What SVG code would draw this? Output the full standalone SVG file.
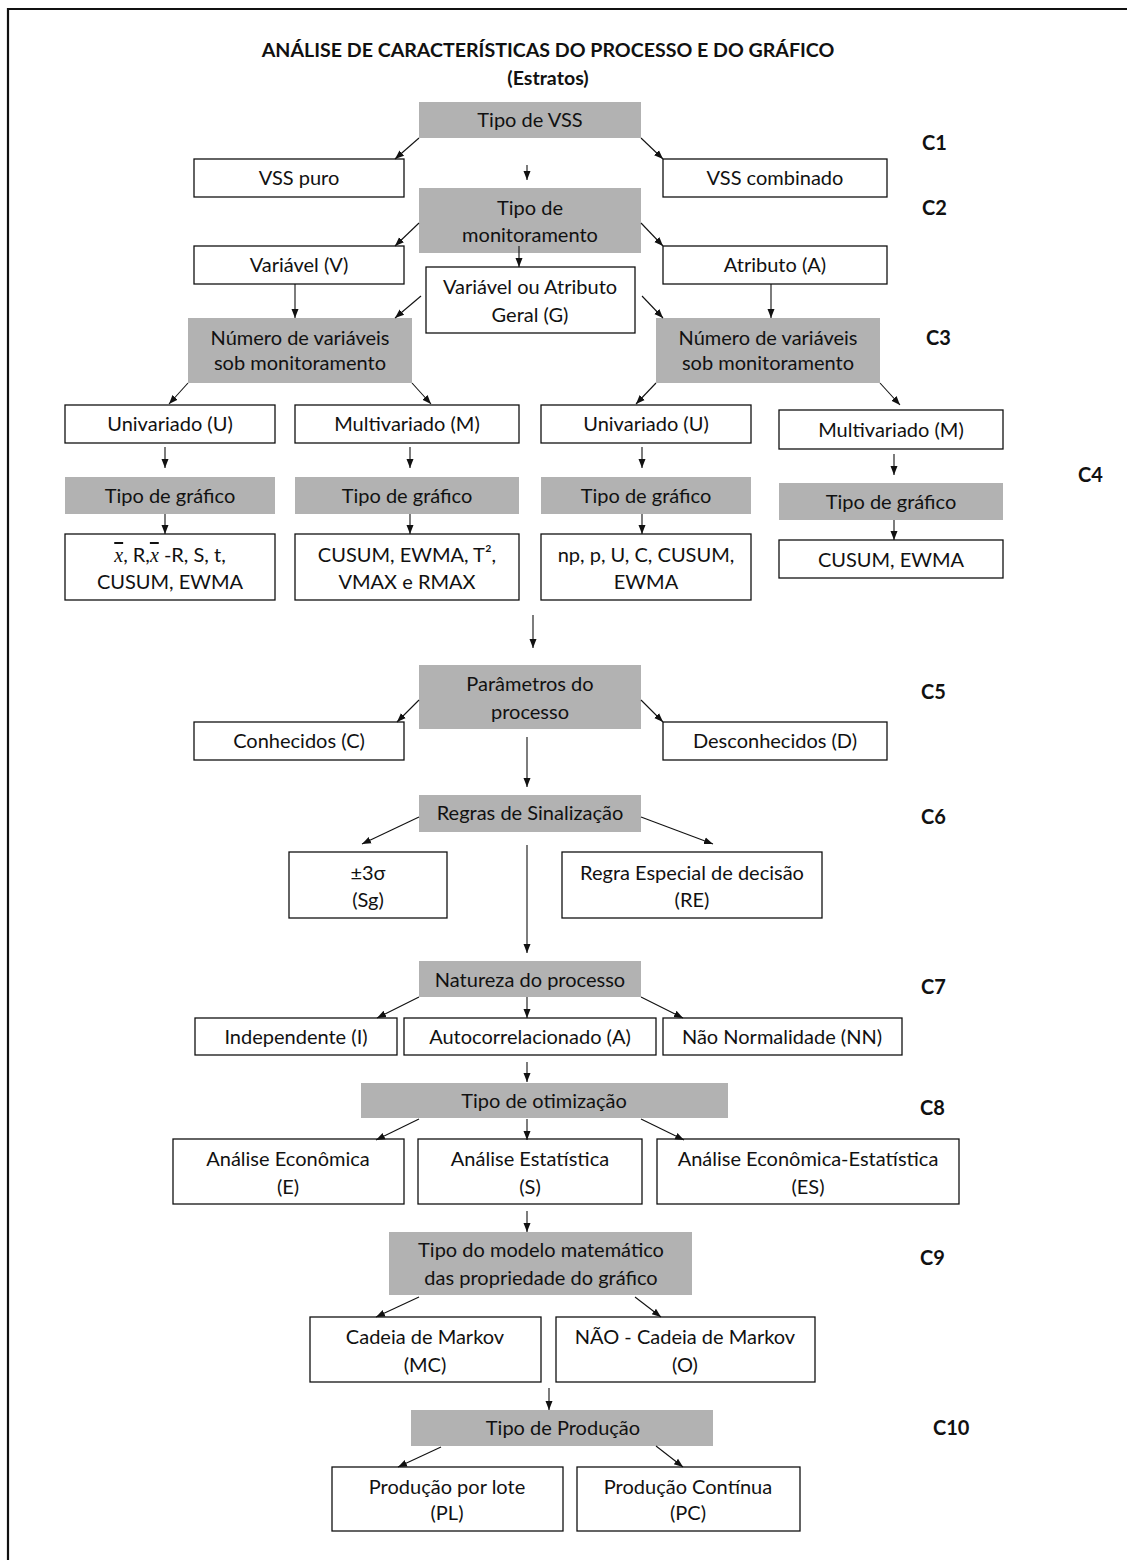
<svg xmlns="http://www.w3.org/2000/svg" width="1127" height="1560" viewBox="0 0 1127 1560">
<defs>
<marker id="ah" markerUnits="userSpaceOnUse" markerWidth="10" markerHeight="10" viewBox="0 0 10 10" refX="9" refY="5" orient="auto">
<path d="M0,1.5 L9,5 L0,8.5 Z" fill="#111"/>
</marker>
<style>
.g{fill:#b2b2b2;stroke:none}
.w{fill:#fff;stroke:#111;stroke-width:1.3}
text{font-family:Lato,"Liberation Sans",sans-serif;font-size:20px;fill:#111;text-anchor:middle}
.t{font-weight:bold;font-size:19.6px}
.c{font-weight:bold;text-anchor:start}
.cn line{stroke:#111;stroke-width:1.1;marker-end:url(#ah)}
.xb{font-family:"Liberation Serif",serif;font-style:italic;text-decoration:overline}
</style>
</defs>
<rect width="1127" height="1560" fill="#fff"/>
<path d="M8,1560 V9 H1127" fill="none" stroke="#111" stroke-width="2.2"/>

<g id="title">
<text class="t" x="548" y="57">ANÁLISE DE CARACTERÍSTICAS DO PROCESSO E DO GRÁFICO</text>
<text class="t" x="548" y="85">(Estratos)</text>
</g>

<g id="labels">
<text class="c" x="922" y="150">C1</text>
<text class="c" x="922" y="215">C2</text>
<text class="c" x="926" y="345">C3</text>
<text class="c" x="1078" y="482">C4</text>
<text class="c" x="921" y="699">C5</text>
<text class="c" x="921" y="824">C6</text>
<text class="c" x="921" y="994">C7</text>
<text class="c" x="920" y="1115">C8</text>
<text class="c" x="920" y="1265">C9</text>
<text class="c" x="933" y="1435">C10</text>
</g>

<g id="n_vss"><rect class="g" x="419" y="102" width="222" height="36"/><text x="530" y="127">Tipo de VSS</text></g>
<g id="n_vss_puro"><rect class="w" x="194" y="159" width="210" height="38"/><text x="299" y="185">VSS puro</text></g>
<g id="n_vss_comb"><rect class="w" x="663" y="159" width="224" height="38"/><text x="775" y="185">VSS combinado</text></g>

<g id="n_mon"><rect class="g" x="419" y="188" width="222" height="65"/><text x="530" y="215">Tipo de</text><text x="530" y="242">monitoramento</text></g>
<g id="n_var"><rect class="w" x="194" y="246" width="210" height="38"/><text x="299" y="272">Variável (V)</text></g>
<g id="n_atr"><rect class="w" x="663" y="246" width="224" height="38"/><text x="775" y="272">Atributo (A)</text></g>
<g id="n_geral"><rect class="w" x="426" y="267" width="209" height="66"/><text x="530" y="294">Variável ou Atributo</text><text x="530" y="322">Geral (G)</text></g>

<g id="n_num1"><rect class="g" x="188" y="318" width="224" height="65"/><text x="300" y="345">Número de variáveis</text><text x="300" y="370">sob monitoramento</text></g>
<g id="n_num2"><rect class="g" x="656" y="318" width="224" height="65"/><text x="768" y="345">Número de variáveis</text><text x="768" y="370">sob monitoramento</text></g>

<g id="n_u1"><rect class="w" x="65" y="405" width="210" height="38"/><text x="170" y="431">Univariado (U)</text></g>
<g id="n_m1"><rect class="w" x="295" y="405" width="224" height="38"/><text x="407" y="431">Multivariado (M)</text></g>
<g id="n_u2"><rect class="w" x="541" y="405" width="210" height="38"/><text x="646" y="431">Univariado (U)</text></g>
<g id="n_m2"><rect class="w" x="779" y="410" width="224" height="39"/><text x="891" y="437">Multivariado (M)</text></g>

<g id="n_tg1"><rect class="g" x="65" y="477" width="210" height="37"/><text x="170" y="503">Tipo de gráfico</text></g>
<g id="n_tg2"><rect class="g" x="295" y="477" width="224" height="37"/><text x="407" y="503">Tipo de gráfico</text></g>
<g id="n_tg3"><rect class="g" x="541" y="477" width="210" height="37"/><text x="646" y="503">Tipo de gráfico</text></g>
<g id="n_tg4"><rect class="g" x="779" y="483" width="224" height="37"/><text x="891" y="509">Tipo de gráfico</text></g>

<g id="n_f1"><rect class="w" x="65" y="534" width="210" height="66"/><text x="170" y="562"><tspan class="xb">x</tspan>, R,<tspan class="xb">x</tspan> -R, S, t,</text><text x="170" y="589">CUSUM, EWMA</text></g>
<g id="n_f2"><rect class="w" x="295" y="534" width="224" height="66"/><text x="407" y="562">CUSUM, EWMA, T², </text><text x="407" y="589">VMAX e RMAX</text></g>
<g id="n_f3"><rect class="w" x="541" y="534" width="210" height="66"/><text x="646" y="562">np, p, U, C, CUSUM,</text><text x="646" y="589">EWMA</text></g>
<g id="n_f4"><rect class="w" x="779" y="540" width="224" height="38"/><text x="891" y="567">CUSUM, EWMA</text></g>

<g id="n_par"><rect class="g" x="419" y="665" width="222" height="64"/><text x="530" y="691">Parâmetros do</text><text x="530" y="719">processo</text></g>
<g id="n_con"><rect class="w" x="194" y="722" width="210" height="38"/><text x="299" y="748">Conhecidos (C)</text></g>
<g id="n_des"><rect class="w" x="663" y="722" width="224" height="38"/><text x="775" y="748">Desconhecidos (D)</text></g>

<g id="n_reg"><rect class="g" x="419" y="795" width="222" height="37"/><text x="530" y="820">Regras de Sinalização</text></g>
<g id="n_sg"><rect class="w" x="289" y="852" width="158" height="66"/><text x="368" y="880">±3σ</text><text x="368" y="907">(Sg)</text></g>
<g id="n_re"><rect class="w" x="562" y="852" width="260" height="66"/><text x="692" y="880">Regra Especial de decisão</text><text x="692" y="907">(RE)</text></g>

<g id="n_nat"><rect class="g" x="419" y="961" width="222" height="36"/><text x="530" y="987">Natureza do processo</text></g>
<g id="n_ind"><rect class="w" x="195" y="1018" width="202" height="37"/><text x="296" y="1044">Independente (I)</text></g>
<g id="n_aut"><rect class="w" x="404" y="1018" width="252" height="37"/><text x="530" y="1044">Autocorrelacionado (A)</text></g>
<g id="n_nn"><rect class="w" x="663" y="1018" width="239" height="37"/><text x="782" y="1044">Não Normalidade (NN)</text></g>

<g id="n_otim"><rect class="g" x="361" y="1083" width="367" height="35"/><text x="544" y="1108">Tipo de otimização</text></g>
<g id="n_e"><rect class="w" x="173" y="1139" width="231" height="65"/><text x="288" y="1166">Análise Econômica</text><text x="288" y="1194">(E)</text></g>
<g id="n_s"><rect class="w" x="418" y="1139" width="224" height="65"/><text x="530" y="1166">Análise Estatística</text><text x="530" y="1194">(S)</text></g>
<g id="n_es"><rect class="w" x="657" y="1139" width="302" height="65"/><text x="808" y="1166">Análise Econômica-Estatística</text><text x="808" y="1194">(ES)</text></g>

<g id="n_mod"><rect class="g" x="389" y="1232" width="303" height="63"/><text x="541" y="1257">Tipo do modelo matemático</text><text x="541" y="1285">das propriedade do gráfico</text></g>
<g id="n_mc"><rect class="w" x="310" y="1317" width="231" height="65"/><text x="425" y="1344">Cadeia de Markov</text><text x="425" y="1372">(MC)</text></g>
<g id="n_o"><rect class="w" x="556" y="1317" width="259" height="65"/><text x="685" y="1344">NÃO - Cadeia de Markov</text><text x="685" y="1372">(O)</text></g>

<g id="n_prod"><rect class="g" x="411" y="1410" width="302" height="36"/><text x="563" y="1435">Tipo de Produção</text></g>
<g id="n_pl"><rect class="w" x="332" y="1467" width="231" height="64"/><text x="447" y="1494">Produção por lote</text><text x="447" y="1520">(PL)</text></g>
<g id="n_pc"><rect class="w" x="577" y="1467" width="223" height="64"/><text x="688" y="1494">Produção Contínua</text><text x="688" y="1520">(PC)</text></g>

<g id="connectors" class="cn">
<line x1="419" y1="138" x2="395" y2="159"/>
<line x1="641" y1="138" x2="663" y2="159"/>
<line x1="527" y1="165" x2="527" y2="180"/>
<line x1="419" y1="223" x2="395" y2="246"/>
<line x1="641" y1="223" x2="663" y2="246"/>
<line x1="519" y1="246" x2="519" y2="267"/>
<line x1="295" y1="284" x2="295" y2="318"/>
<line x1="771" y1="284" x2="771" y2="318"/>
<line x1="421" y1="296" x2="395" y2="318"/>
<line x1="642" y1="296" x2="663" y2="318"/>
<line x1="188" y1="383" x2="169" y2="404"/>
<line x1="412" y1="383" x2="431" y2="404"/>
<line x1="656" y1="383" x2="636" y2="404"/>
<line x1="880" y1="383" x2="900" y2="405"/>
<line x1="165" y1="447" x2="165" y2="468"/>
<line x1="410" y1="447" x2="410" y2="468"/>
<line x1="642" y1="447" x2="642" y2="468"/>
<line x1="894" y1="454" x2="894" y2="475"/>
<line x1="165" y1="514" x2="165" y2="534"/>
<line x1="410" y1="514" x2="410" y2="534"/>
<line x1="642" y1="514" x2="642" y2="534"/>
<line x1="894" y1="520" x2="894" y2="540"/>
<line x1="533" y1="615" x2="533" y2="648"/>
<line x1="419" y1="700" x2="397" y2="722"/>
<line x1="641" y1="700" x2="663" y2="722"/>
<line x1="527" y1="737" x2="527" y2="787"/>
<line x1="419" y1="817" x2="362" y2="844"/>
<line x1="641" y1="817" x2="713" y2="844"/>
<line x1="527" y1="845" x2="527" y2="953"/>
<line x1="419" y1="997" x2="377" y2="1018"/>
<line x1="527" y1="997" x2="527" y2="1018"/>
<line x1="641" y1="997" x2="683" y2="1018"/>
<line x1="527" y1="1062" x2="527" y2="1082"/>
<line x1="419" y1="1119" x2="376" y2="1140"/>
<line x1="527" y1="1119" x2="527" y2="1140"/>
<line x1="641" y1="1119" x2="684" y2="1140"/>
<line x1="527" y1="1211" x2="527" y2="1232"/>
<line x1="419" y1="1297" x2="376" y2="1317"/>
<line x1="635" y1="1297" x2="661" y2="1317"/>
<line x1="549" y1="1388" x2="549" y2="1410"/>
<line x1="441" y1="1447" x2="398" y2="1467"/>
<line x1="656" y1="1446" x2="683" y2="1467"/>
</g>
</svg>
